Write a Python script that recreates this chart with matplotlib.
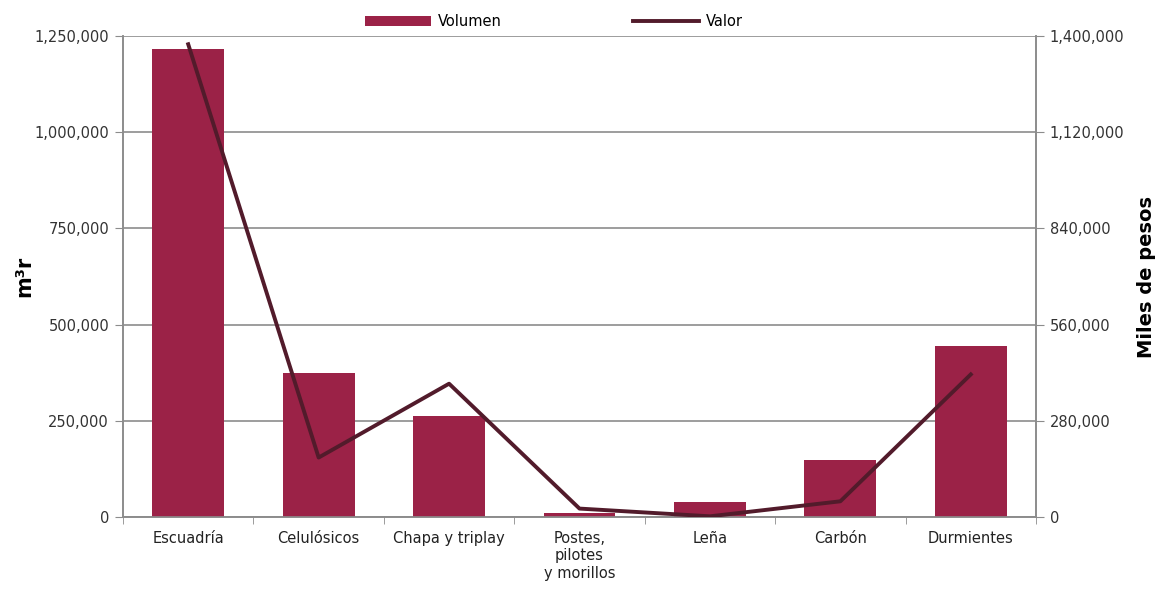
import numpy as np
import matplotlib.pyplot as plt
from matplotlib.ticker import FuncFormatter, FixedLocator

# datos
categorias = ["Escuadría", "Celulósicos", "Chapa y triplay", "Postes,\npilotes\ny morillos",
              "Leña", "Carbón", "Durmientes"]
volumen = [1215000, 374000, 262000, 10500, 40000, 147000, 444000]   # m3r
valor = [1376000, 173000, 388000, 24500, 2000, 45700, 415000]       # miles de pesos

color_barra = "#9b2247"
color_linea = "#521b2b"
gris = "#8c8c8c"

plt.rcParams['font.family'] = ['DejaVu Sans']

fig = plt.figure(figsize=(11.64, 5.89), dpi=100)
ax = fig.add_axes([123/1164, 1 - 517/589, (1036 - 123)/1164, (517 - 36)/589])
ax2 = ax.twinx()

x = np.arange(len(categorias))
ax.bar(x, volumen, width=0.55, color=color_barra, label="Volumen", zorder=3)
ax2.plot(x, valor, color=color_linea, lw=2.8, label="Valor", zorder=4)

ax.set_xlim(-0.5, len(categorias) - 0.5)
ax.set_ylim(0, 1250000)
ax2.set_ylim(0, 1400000)
ax.set_yticks(np.arange(0, 1250001, 250000))
ax2.set_yticks(np.arange(0, 1400001, 280000))

fmt = FuncFormatter(lambda v, p: f"{int(v):,}")
ax.yaxis.set_major_formatter(fmt)
ax2.yaxis.set_major_formatter(fmt)

ax.yaxis.grid(True, color=gris, lw=1.2, zorder=0)
ax.set_axisbelow(True)

ax.set_xticks(x)
ax.set_xticklabels(categorias, fontsize=10.5, color="#222222", va="top")
ax.tick_params(axis="x", which="major", length=0, pad=10)
ax.xaxis.set_minor_locator(FixedLocator(np.arange(-0.5, len(categorias), 1.0)))
ax.tick_params(axis="x", which="minor", length=5, color=gris, direction="out")

ax.tick_params(axis="y", length=6, color=gris, labelsize=10.5, labelcolor="#333333", pad=4)
ax2.tick_params(axis="y", length=6, color=gris, labelsize=10.5, labelcolor="#333333", pad=4)

for a in (ax, ax2):
    a.spines["top"].set_visible(False)
    for s in ("left", "right", "bottom"):
        a.spines[s].set_color(gris)
        a.spines[s].set_linewidth(1.2)

ax.set_ylabel("m³r", fontsize=15, fontweight="bold")
ax.yaxis.set_label_coords(-0.097, 0.5)
ax2.set_ylabel("Miles de pesos", fontsize=14, fontweight="bold")
ax2.yaxis.set_label_coords(1.111, 0.5)

h1, l1 = ax.get_legend_handles_labels()
h2, l2 = ax2.get_legend_handles_labels()
fig.legend(h1 + h2, l1 + l2, loc="center", bbox_to_anchor=(0.476, 0.963), ncol=2,
           frameon=False, fontsize=10.5, handlelength=4.5, handleheight=0.7,
           columnspacing=9.0, handletextpad=0.5)

fig.savefig("out.png", dpi=100)
